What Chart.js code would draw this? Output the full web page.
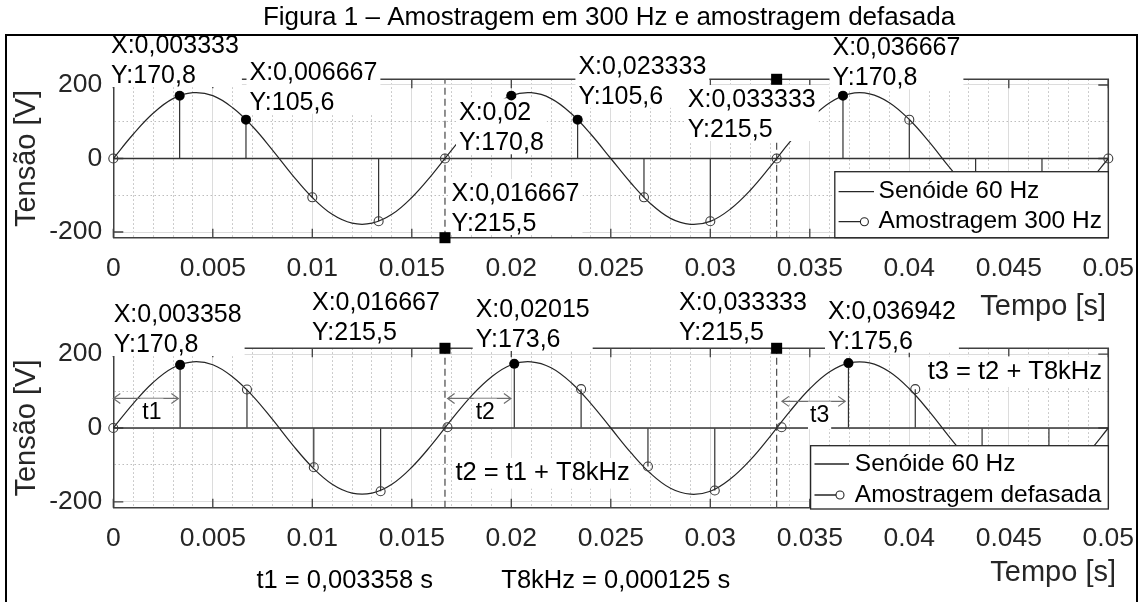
<!DOCTYPE html>
<html lang="pt-BR">
<head>
<meta charset="utf-8">
<title>Amostragem em 300 Hz e amostragem defasada</title>
<script src="https://cdn.jsdelivr.net/npm/chart.js@4.4.1/dist/chart.umd.min.js"></script>
<style>
  html, body { margin: 0; padding: 0; background: #fff; }
  #fig { position: relative; width: 1141px; height: 602px; overflow: hidden; background: #fff; }
  #fig canvas { position: absolute; left: 0; top: 0; }
  #moldura { position: absolute; left: 5px; top: 34px; width: 1129px; height: 600px; border: 2px solid #000; pointer-events: none; }
</style>
</head>
<body>
<div id="fig">
  <canvas id="graficoA" width="1141" height="602" style="width:1141px;height:602px"></canvas>
  <canvas id="graficoB" width="1141" height="602" style="width:1141px;height:602px"></canvas>
  <div id="moldura"></div>
</div>
<script>
// senoide de 60 Hz (V) amostrada a cada 1 ms
const tempo = [0, 0.001, 0.002, 0.003, 0.004, 0.005, 0.006, 0.007, 0.008, 0.009,
  0.01, 0.011, 0.012, 0.013, 0.014, 0.015, 0.016, 0.017, 0.018, 0.019,
  0.02, 0.021, 0.022, 0.023, 0.024, 0.025, 0.026, 0.027, 0.028, 0.029,
  0.03, 0.031, 0.032, 0.033, 0.034, 0.035, 0.036, 0.037, 0.038, 0.039,
  0.04, 0.041, 0.042, 0.043, 0.044, 0.045, 0.046, 0.047, 0.048, 0.049, 0.05];
const senoide = [0, 66, 123, 163, 179, 171, 138, 87, 23, -45,
  -106, -152, -176, -176, -152, -106, -45, 23, 87, 138,
  171, 179, 163, 123, 66, 0, -66, -123, -163, -179,
  -171, -138, -87, -23, 45, 106, 152, 176, 176, 152,
  106, 45, -23, -87, -138, -171, -179, -163, -123, -66, 0];

// amostragem em 300 Hz
const amostrasX = [0, 0.003333, 0.006667, 0.01, 0.013333, 0.016667, 0.02, 0.023333,
  0.026667, 0.03, 0.033333, 0.036667, 0.04, 0.043333, 0.046667, 0.05];
const amostrasY = [0, 170.8, 105.6, -105.6, -170.8, 0, 170.8, 105.6,
  -105.6, -170.8, 0, 170.8, 105.6, -105.6, -170.8, 0];

// amostragem defasada (t1 + n*T8kHz a cada ciclo)
const defasadaX = [0, 0.003358, 0.006717, 0.010075, 0.013433, 0.016792, 0.02015, 0.023508,
  0.026867, 0.030225, 0.033583, 0.036942, 0.0403, 0.043658, 0.047017];
const defasadaY = [0, 170.8, 104, -106, -171, 2, 173.6, 105,
  -104, -169, 2, 175.6, 105, -122, -162];

// amostras com datatip
const dicasA = [1, 2, 6, 7, 11];
const dicasB = [1, 6, 11];

// inicio de cada periodo (linhas tracejadas) e marcadores quadrados
const periodos = [0.016667, 0.033333];
const marcasA = [-215.5, 215.5];
const marcasB = [215.5, 215.5];
const yLimite = 215.5;

const T8kHz = 0.000125;

// setas t1, t2, t3
const setaInicio = [0, 0.0168, 0.0336];
const setaFim = [0.00327, 0.01998, 0.03678];
const setaNivel = [80, 80, 72];
const setaRotulos = ['t1', 't2', 't3'];

const xTicks = ['0', '0.005', '0.01', '0.015', '0.02', '0.025', '0.03', '0.035', '0.04', '0.045', '0.05'];
const yTicksValores = [-200, 0, 200];
const yTicksTextos = ['-200', '0', '200'];

const legendaA = ['Senóide 60 Hz', 'Amostragem 300 Hz'];
const legendaB = ['Senóide 60 Hz', 'Amostragem defasada'];

const fonte = "'Liberation Sans', Arial, Helvetica, sans-serif";
const fmt = v => String(+v.toFixed(6)).replace('.', ',');

function caixaDica(ctx, linhas, pos) {
  ctx.font = `25px ${fonte}`;
  const w = Math.max(...linhas.map(l => ctx.measureText(l).width));
  ctx.fillStyle = '#fff';
  ctx.fillRect(pos[0] - 3, pos[1] - 15, w + 6, 56);
  ctx.fillStyle = '#000';
  ctx.textAlign = 'left';
  ctx.textBaseline = 'middle';
  linhas.forEach((l, i) => ctx.fillText(l, pos[0], pos[1] + i * 30));
}

function caixaTexto(ctx, n, tamanho) {
  ctx.font = `${tamanho}px ${fonte}`;
  const w = ctx.measureText(n.texto).width;
  const x0 = n.centro ? n.x - w / 2 : n.x;
  ctx.fillStyle = '#fff';
  ctx.fillRect(x0 - 2, n.y - tamanho * 0.6, w + 4, tamanho * 1.2);
  ctx.fillStyle = '#000';
  ctx.textAlign = 'left';
  ctx.textBaseline = 'middle';
  ctx.fillText(n.texto, x0, n.y);
}

function desenharLegenda(ctx, L) {
  ctx.fillStyle = '#fff';
  ctx.fillRect(L.x0, L.y0, L.x1 - L.x0, L.y1 - L.y0);
  ctx.strokeStyle = '#262626';
  ctx.lineWidth = 1.3;
  ctx.strokeRect(L.x0, L.y0, L.x1 - L.x0, L.y1 - L.y0);
  ctx.beginPath();
  ctx.moveTo(L.linha0, L.linhas[0]);
  ctx.lineTo(L.linha1, L.linhas[0]);
  ctx.moveTo(L.linha0, L.linhas[1]);
  ctx.lineTo(L.marca - 4, L.linhas[1]);
  ctx.stroke();
  ctx.lineWidth = 1.1;
  ctx.beginPath();
  ctx.arc(L.marca, L.linhas[1], 4, 0, 2 * Math.PI);
  ctx.stroke();
  ctx.font = `24.5px ${fonte}`;
  ctx.fillStyle = '#000';
  ctx.textAlign = 'left';
  ctx.textBaseline = 'middle';
  L.itens.forEach((t, i) => ctx.fillText(t, L.texto, L.linhas[i]));
}

function seta(ctx, x0, x1, yy) {
  ctx.strokeStyle = '#6e6e6e';
  ctx.lineWidth = 1.2;
  ctx.beginPath();
  ctx.moveTo(x0, yy); ctx.lineTo(x1, yy);
  ctx.moveTo(x0 + 7, yy - 5); ctx.lineTo(x0, yy); ctx.lineTo(x0 + 7, yy + 5);
  ctx.moveTo(x1 - 7, yy - 5); ctx.lineTo(x1, yy); ctx.lineTo(x1 - 7, yy + 5);
  ctx.stroke();
}

function criarDecoracao(cfg) {
  return {
    id: 'decoracao',
    // caixa fechada e ticks para dentro, estilo MATLAB
    beforeDatasetsDraw(chart) {
      const {ctx, chartArea: a, scales: {x, y}} = chart;
      ctx.save();
      ctx.strokeStyle = '#404040';
      ctx.lineWidth = 1.5;
      ctx.beginPath();
      ctx.moveTo(a.left, a.top);
      ctx.lineTo(a.right, a.top);
      ctx.lineTo(a.right, a.bottom);
      ctx.stroke();
      ctx.lineWidth = 1.3;
      ctx.beginPath();
      x.ticks.forEach((t, i) => {
        if (i % 5) return;
        const px = x.getPixelForValue(t.value);
        ctx.moveTo(px, a.bottom); ctx.lineTo(px, a.bottom - 9);
        ctx.moveTo(px, a.top); ctx.lineTo(px, a.top + 9);
      });
      yTicksValores.forEach(v => {
        const py = y.getPixelForValue(v);
        ctx.moveTo(a.left, py); ctx.lineTo(a.left + 10, py);
        ctx.moveTo(a.right, py); ctx.lineTo(a.right - 10, py);
      });
      ctx.stroke();
      ctx.restore();
    },
    // legenda, datatips e anotacoes ficam por cima das hastes, abaixo dos marcadores
    afterDatasetDraw(chart, args) {
      if (chart.data.datasets[args.index].label !== 'amostras') return;
      const {ctx, scales: {x, y}} = chart;
      ctx.save();
      desenharLegenda(ctx, cfg.legenda);
      cfg.dicas.forEach((k, i) => caixaDica(ctx, ['X:' + fmt(cfg.ax[k]), 'Y:' + fmt(cfg.ay[k])], cfg.posDicas[i]));
      periodos.forEach((p, i) => caixaDica(ctx, ['X:' + fmt(p), 'Y:' + fmt(Math.abs(cfg.marcas[i]))], cfg.posMarcas[i]));
      if (cfg.setas) {
        setaInicio.forEach((s, i) => {
          const x0 = x.getPixelForValue(s);
          const x1 = x.getPixelForValue(setaFim[i]);
          const py = y.getPixelForValue(setaNivel[i]);
          seta(ctx, x0, x1, py);
          caixaTexto(ctx, {texto: setaRotulos[i], x: (x0 + x1) / 2 + 6, y: py + 14, centro: true}, 23);
        });
      }
      (cfg.notas || []).forEach(n => caixaTexto(ctx, n, 25.5));
      ctx.restore();
    },
    afterDraw(chart) {
      const {ctx, chartArea: a} = chart;
      ctx.save();
      ctx.fillStyle = '#262626';
      ctx.textBaseline = 'middle';
      ctx.font = `29px ${fonte}`;
      ctx.save();
      ctx.translate(27, (a.top + a.bottom) / 2);
      ctx.rotate(-Math.PI / 2);
      ctx.textAlign = 'center';
      ctx.fillText('Tensão [V]', 0, 0);
      ctx.restore();
      ctx.textAlign = 'right';
      ctx.fillText('Tempo [s]', cfg.rotuloX.x, cfg.rotuloX.y);
      ctx.fillStyle = '#000';
      if (cfg.titulo) {
        ctx.font = `26px ${fonte}`;
        ctx.textAlign = 'center';
        ctx.fillText('Figura 1 – Amostragem em 300 Hz e amostragem defasada', cfg.titulo.x, cfg.titulo.y);
      }
      (cfg.rodape || []).forEach(n => {
        ctx.font = `25.5px ${fonte}`;
        ctx.textAlign = 'left';
        ctx.fillText(n.texto, n.x, n.y);
      });
      ctx.restore();
    }
  };
}

function criarGrafico(id, cfg) {
  const pts = (xs, ys) => xs.map((v, i) => ({x: v, y: ys[i]}));
  const tracejado = [
    {x: periodos[0], y: -yLimite}, {x: periodos[0], y: yLimite}, {x: periodos[0], y: null},
    {x: periodos[1], y: -yLimite}, {x: periodos[1], y: yLimite}
  ];
  return new Chart(document.getElementById(id), {
    type: 'line',
    data: {
      datasets: [
        {
          label: 'dicas', data: cfg.dicas.map(k => ({x: cfg.ax[k], y: cfg.ay[k]})),
          showLine: false, pointRadius: 4.8, pointBackgroundColor: '#000', pointBorderColor: '#000',
          pointBorderWidth: 0, clip: false, order: 0
        },
        {
          label: 'marcas', data: pts(periodos, cfg.marcas),
          showLine: false, pointStyle: 'rect', pointRadius: 7.8, pointBackgroundColor: '#000',
          pointBorderColor: '#000', pointBorderWidth: 0, clip: false, order: 1
        },
        {
          label: 'amostras', data: pts(cfg.ax, cfg.ay),
          showLine: false, pointRadius: 4.5, pointBorderWidth: 1.1, pointBorderColor: '#3a3a3a',
          pointBackgroundColor: 'rgba(255,255,255,0)', clip: false, order: 2
        },
        {
          label: 'senoide', data: pts(tempo, senoide),
          borderColor: '#262626', borderWidth: 1.2, pointRadius: 0, tension: 0.4, order: 3
        },
        {
          label: 'hastes', type: 'bar', data: pts(cfg.ax, cfg.ay),
          backgroundColor: '#303030', barThickness: 1.2, inflateAmount: 0, grouped: false, order: 4
        },
        {
          label: 'base', data: [{x: 0, y: 0}, {x: 0.05, y: 0}],
          borderColor: '#333', borderWidth: 1.3, pointRadius: 0, order: 5
        },
        {
          label: 'periodos', data: tracejado,
          borderColor: '#555', borderWidth: 1.3, borderDash: [7, 4], pointRadius: 0, order: 6
        }
      ]
    },
    options: {
      responsive: false,
      animation: false,
      devicePixelRatio: 1,
      events: [],
      layout: {autoPadding: false, padding: cfg.padding},
      plugins: {legend: {display: false}, tooltip: {enabled: false}},
      scales: {
        x: {
          type: 'linear', min: 0, max: 0.05, offset: false,
          afterFit: s => { s.height = 60; s.paddingLeft = 0; s.paddingRight = 0; },
          ticks: {
            stepSize: 0.001, autoSkip: false, maxRotation: 0, minRotation: 0, padding: 15,
            color: '#262626', font: {family: fonte, size: 26.5},
            callback: (v, i) => (i % 5 === 0 ? xTicks[i / 5] : '')
          },
          grid: {
            offset: false, drawTicks: false, lineWidth: 1,
            color: c => (c.index % 5 === 0 ? '#dcdcdc' : '#bdbdbd')
          },
          border: {
            color: '#404040', width: 1.5,
            dash: c => (c.type === 'tick' && c.index % 5 !== 0 ? [1.5, 2.5] : [])
          }
        },
        y: {
          type: 'linear', min: -yLimite, max: yLimite,
          afterFit: s => { s.width = 80; s.paddingTop = 0; s.paddingBottom = 0; },
          ticks: {
            stepSize: 50, includeBounds: false, padding: 11,
            color: '#262626', font: {family: fonte, size: 26.5},
            callback: v => {
              const k = yTicksValores.indexOf(v);
              return k < 0 ? '' : yTicksTextos[k];
            }
          },
          grid: {
            drawTicks: false, lineWidth: 1,
            color: c => (c.tick && c.tick.value % 200 === 0 ? '#dcdcdc' : '#bdbdbd')
          },
          border: {
            color: '#404040', width: 1.5,
            dash: c => (c.type === 'tick' && c.tick.value % 200 !== 0 ? [1.5, 2.5] : [])
          }
        }
      }
    },
    plugins: [criarDecoracao(cfg)]
  });
}

criarGrafico('graficoA', {
  padding: {left: 33.3, right: 32.7, top: 79.3, bottom: 304.3},
  ax: amostrasX, ay: amostrasY, dicas: dicasA, marcas: marcasA,
  posDicas: [[111, 46], [249.5, 72.7], [459, 113.3], [578.4, 66.7], [832.5, 48.3]],
  posMarcas: [[451.6, 194], [687.8, 100]],
  legenda: {
    x0: 834.8, y0: 171.7, x1: 1108.3, y1: 237.7, linhas: [191.7, 221.7],
    linha0: 838.6, linha1: 874, marca: 864.4, texto: 878.6, itens: legendaA
  },
  rotuloX: {x: 1106, y: 307},
  titulo: {x: 609, y: 18}
});

criarGrafico('graficoB', {
  padding: {left: 33.3, right: 32.7, top: 348.3, bottom: 34.3},
  ax: defasadaX, ay: defasadaY, dicas: dicasB, marcas: marcasB,
  posDicas: [[113.7, 315], [475.7, 310], [828, 311.7]],
  posMarcas: [[312, 303.3], [679, 302.7]],
  legenda: {
    x0: 810.6, y0: 445.7, x1: 1108.3, y1: 509, linhas: [464, 495],
    linha0: 814.5, linha1: 849, marca: 840, texto: 854.8, itens: legendaB
  },
  setas: true,
  notas: [
    {texto: 't2 = t1 + T8kHz', x: 455.4, y: 473.3},
    {texto: 't3 = t2 + T8kHz', x: 927.7, y: 371.7}
  ],
  rotuloX: {x: 1116, y: 573},
  rodape: [
    {texto: 't1 = ' + fmt(defasadaX[1]) + ' s', x: 256.4, y: 581},
    {texto: 'T8kHz = ' + fmt(T8kHz) + ' s', x: 501.3, y: 581}
  ]
});
</script>
</body>
</html>
